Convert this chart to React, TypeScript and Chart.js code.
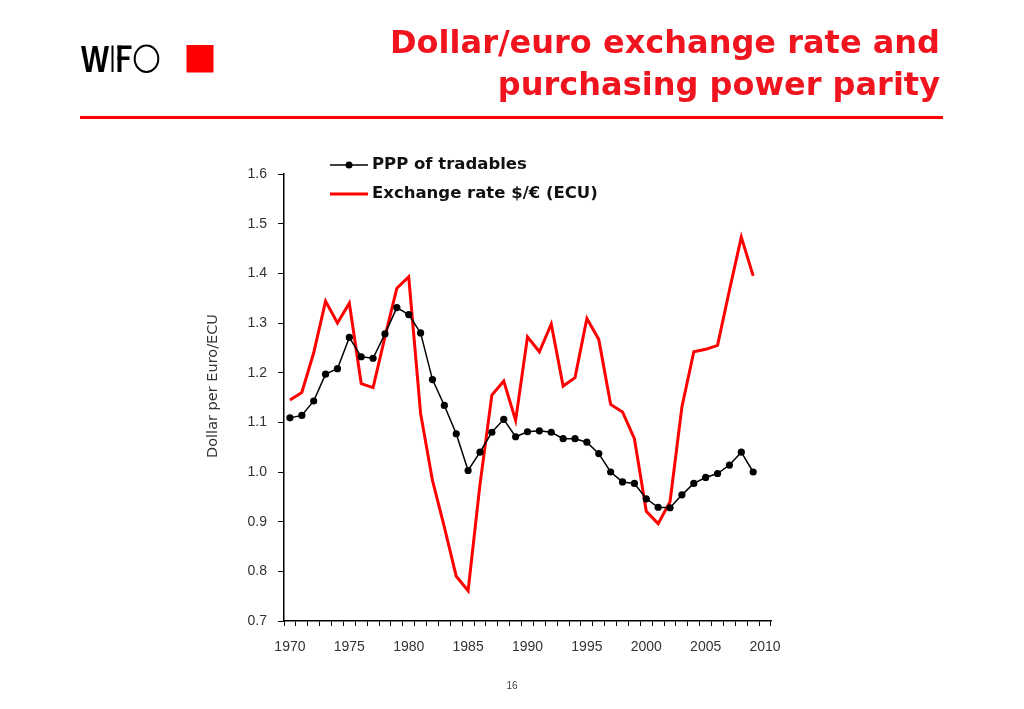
import React, { useEffect, useRef } from "react";
import { Chart, registerables } from "chart.js";

Chart.register(...registerables);

const years: string[] = [];
for (let y = 1970; y <= 2010; y++) years.push(String(y));

const pppTradables = [
  1.109, 1.114, 1.143, 1.197, 1.208, 1.271, 1.232, 1.229, 1.278, 1.331,
  1.317, 1.28, 1.186, 1.134, 1.077, 1.003, 1.04, 1.08, 1.106, 1.071,
  1.081, 1.083, 1.08, 1.067, 1.067, 1.06, 1.037, 1.0, 0.98, 0.977,
  0.946, 0.929, 0.928, 0.954, 0.977, 0.989, 0.997, 1.014, 1.04, 1.0,
];

const exchangeRate = [
  1.145, 1.16, 1.24, 1.344, 1.3, 1.34, 1.178, 1.17, 1.272, 1.37,
  1.393, 1.118, 0.983, 0.889, 0.79, 0.761, 0.975, 1.155, 1.183, 1.104,
  1.272, 1.242, 1.298, 1.173, 1.19, 1.309, 1.267, 1.136, 1.121, 1.067,
  0.921, 0.896, 0.94, 1.131, 1.242, 1.247, 1.255, 1.366, 1.473, 1.395,
];

const seriesNames = ["PPP of tradables", "Exchange rate $/€ (ECU)"];
const titleLines = ["Dollar/euro exchange rate and", "purchasing power parity"];
const yAxisTitle = "Dollar per Euro/ECU";
const pageNumber = "16";

const RED = "#ff0000";
const TITLE_RED = "#f0141e";

const decorPlugin = {
  id: "decor",
  afterDraw(chart: any) {
    const ctx = chart.ctx as CanvasRenderingContext2D;
    ctx.save();
    // Title
    ctx.fillStyle = TITLE_RED;
    ctx.font = "bold 32px 'DejaVu Sans'";
    ctx.textAlign = "right";
    ctx.textBaseline = "alphabetic";
    ctx.fillText(titleLines[0], 940, 53);
    ctx.fillText(titleLines[1], 940, 95);
    // Rule
    ctx.fillStyle = RED;
    ctx.fillRect(80, 116, 863, 3);
    // Logo
    ctx.fillStyle = "#000";
    ctx.textAlign = "left";
    ctx.font = "bold 37px 'Liberation Sans'";
    ctx.fillText("W", 81, 72, 28);
    ctx.fillRect(111.5, 45.5, 2, 26.5);
    ctx.fillRect(117.5, 45.5, 4, 26.5);
    ctx.fillRect(117.5, 45.5, 14, 3.5);
    ctx.fillRect(117.5, 56.5, 12, 3.5);
    ctx.strokeStyle = "#000";
    ctx.lineWidth = 2;
    ctx.beginPath();
    ctx.ellipse(146.5, 58.7, 11.8, 13.2, 0, 0, Math.PI * 2);
    ctx.stroke();
    ctx.fillStyle = RED;
    ctx.fillRect(186.5, 45, 27, 27.5);
    // Page number
    ctx.fillStyle = "#444";
    ctx.font = "10px 'Liberation Sans'";
    ctx.textAlign = "center";
    ctx.textBaseline = "middle";
    ctx.fillText(pageNumber, 512, 686);
    // Y axis title
    ctx.save();
    ctx.translate(213.5, 386);
    ctx.rotate(-Math.PI / 2);
    ctx.fillStyle = "#333";
    ctx.font = "14.5px 'DejaVu Sans'";
    ctx.textAlign = "center";
    ctx.textBaseline = "middle";
    ctx.fillText(yAxisTitle, 0, 0);
    ctx.restore();
    // Legend
    const lx0 = 330;
    const lx1 = 368;
    ctx.strokeStyle = "#000";
    ctx.lineWidth = 1.5;
    ctx.beginPath();
    ctx.moveTo(lx0, 165);
    ctx.lineTo(lx1, 165);
    ctx.stroke();
    ctx.fillStyle = "#000";
    ctx.beginPath();
    ctx.arc((lx0 + lx1) / 2, 165, 3.5, 0, Math.PI * 2);
    ctx.fill();
    ctx.strokeStyle = RED;
    ctx.lineWidth = 3;
    ctx.beginPath();
    ctx.moveTo(lx0, 194);
    ctx.lineTo(lx1, 194);
    ctx.stroke();
    ctx.fillStyle = "#111";
    ctx.font = "bold 16.5px 'DejaVu Sans'";
    ctx.textAlign = "left";
    ctx.textBaseline = "middle";
    ctx.fillText(seriesNames[0], 372, 165);
    ctx.fillText(seriesNames[1], 372, 194);
    ctx.restore();
  },
};

export default function App() {
  const ref = useRef<HTMLCanvasElement | null>(null);
  useEffect(() => {
    if (!ref.current) return;
    const chart = new Chart(ref.current, {
      type: "line",
      data: {
        labels: years,
        datasets: [
          {
            label: seriesNames[0],
            data: pppTradables,
            borderColor: "#000",
            backgroundColor: "#000",
            borderWidth: 1.5,
            pointRadius: 3.6,
            pointBorderWidth: 0,
            pointBackgroundColor: "#000",
            tension: 0,
          },
          {
            label: seriesNames[1],
            data: exchangeRate,
            borderColor: RED,
            backgroundColor: RED,
            borderWidth: 3,
            pointRadius: 0,
            tension: 0,
          },
        ],
      },
      options: {
        animation: false,
        responsive: false,
        maintainAspectRatio: false,
        layout: { padding: { left: 200, right: 253, top: 174, bottom: 48 } },
        plugins: { legend: { display: false }, tooltip: { enabled: false } },
        scales: {
          x: {
            type: "category",
            offset: true,
            afterFit: (s: any) => {
              s.height = 40;
            },
            grid: {
              offset: true,
              drawOnChartArea: false,
              drawTicks: true,
              tickLength: 5,
              color: "#000",
            },
            border: { display: true, color: "#000", width: 1.5 },
            ticks: {
              autoSkip: false,
              maxRotation: 0,
              minRotation: 0,
              padding: 13,
              color: "#333",
              font: { family: "'Liberation Sans'", size: 14 },
              callback: function (this: any, _v: any, i: number) {
                const yr = Number(years[i]);
                return yr % 5 === 0 ? String(yr) : "";
              },
            },
          },
          y: {
            min: 0.7,
            max: 1.6,
            afterFit: (s: any) => {
              s.width = 84;
            },
            grid: {
              drawOnChartArea: false,
              drawTicks: true,
              tickLength: 6,
              color: "#000",
            },
            border: { display: true, color: "#000", width: 1.5 },
            ticks: {
              stepSize: 0.1,
              padding: 11,
              color: "#333",
              font: { family: "'Liberation Sans'", size: 14 },
              callback: (v: any) => Number(v).toFixed(1),
            },
          },
        },
      },
      plugins: [decorPlugin],
    });
    return () => chart.destroy();
  }, []);
  return (
    <div style={{ position: "absolute", left: 0, top: 0, width: 1024, height: 709 }}>
      <canvas ref={ref} width={1024} height={709} style={{ width: 1024, height: 709, display: "block" }} />
    </div>
  );
}
